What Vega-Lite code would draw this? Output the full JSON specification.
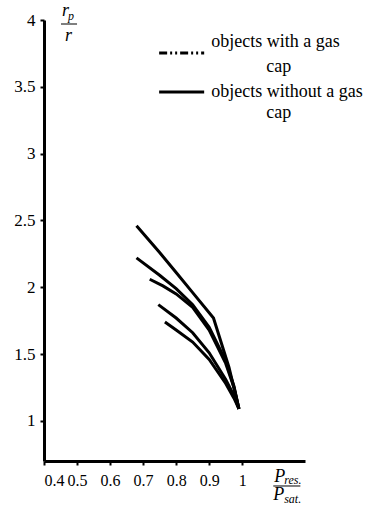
{
  "$schema": "https://vega.github.io/schema/vega-lite/v6.json",
  "width": 261,
  "height": 441,
  "autosize": {"type": "none"},
  "padding": {"left": 44, "top": 20, "right": 62, "bottom": 47},
  "background": "white",
  "config": {
    "font": "Liberation Serif, serif",
    "view": {"stroke": null},
    "axis": {
      "grid": false,
      "domainColor": "black",
      "tickColor": "black",
      "labelColor": "black",
      "labelFont": "Liberation Serif, serif",
      "domainWidth": 3,
      "tickWidth": 2,
      "tickSize": 4,
      "labelOverlap": false
    }
  },
  "datasets": {
    "curves": [
      {"curve": "A", "x": 0.68, "y": 2.46}, {"curve": "A", "x": 0.75, "y": 2.26}, {"curve": "A", "x": 0.8, "y": 2.11}, {"curve": "A", "x": 0.85, "y": 1.96}, {"curve": "A", "x": 0.913, "y": 1.77}, {"curve": "A", "x": 0.96, "y": 1.4}, {"curve": "A", "x": 0.99, "y": 1.09},
      {"curve": "B", "x": 0.68, "y": 2.22}, {"curve": "B", "x": 0.75, "y": 2.09}, {"curve": "B", "x": 0.8, "y": 1.99}, {"curve": "B", "x": 0.85, "y": 1.87}, {"curve": "B", "x": 0.9, "y": 1.7}, {"curve": "B", "x": 0.95, "y": 1.45}, {"curve": "B", "x": 0.975, "y": 1.26}, {"curve": "B", "x": 0.99, "y": 1.09},
      {"curve": "C", "x": 0.72, "y": 2.06}, {"curve": "C", "x": 0.76, "y": 2.01}, {"curve": "C", "x": 0.8, "y": 1.95}, {"curve": "C", "x": 0.85, "y": 1.85}, {"curve": "C", "x": 0.9, "y": 1.68}, {"curve": "C", "x": 0.95, "y": 1.43}, {"curve": "C", "x": 0.975, "y": 1.25}, {"curve": "C", "x": 0.99, "y": 1.09},
      {"curve": "D", "x": 0.746, "y": 1.87}, {"curve": "D", "x": 0.8, "y": 1.77}, {"curve": "D", "x": 0.85, "y": 1.66}, {"curve": "D", "x": 0.9, "y": 1.51}, {"curve": "D", "x": 0.95, "y": 1.31}, {"curve": "D", "x": 0.975, "y": 1.19}, {"curve": "D", "x": 0.99, "y": 1.09},
      {"curve": "E", "x": 0.766, "y": 1.74}, {"curve": "E", "x": 0.8, "y": 1.68}, {"curve": "E", "x": 0.85, "y": 1.59}, {"curve": "E", "x": 0.9, "y": 1.46}, {"curve": "E", "x": 0.95, "y": 1.28}, {"curve": "E", "x": 0.975, "y": 1.17}, {"curve": "E", "x": 0.99, "y": 1.09}
    ],
    "legendLines": [
      {"kind": "with", "x": 0.7485, "x2": 0.8848, "y": 3.753},
      {"kind": "without", "x": 0.7485, "x2": 0.8848, "y": 3.461}
    ],
    "legendText": [
      {"text": "objects with a gas", "x": 0.906, "y": 3.798},
      {"text": "cap", "x": 1.073, "y": 3.611},
      {"text": "objects without a gas", "x": 0.906, "y": 3.424},
      {"text": "cap", "x": 1.073, "y": 3.27}
    ],
    "mathBig": [
      {"text": "r", "x": 0.4545, "y": 4.03},
      {"text": "r", "x": 0.4636, "y": 3.843},
      {"text": "P", "x": 1.097, "y": 0.543},
      {"text": "P", "x": 1.094, "y": 0.408}
    ],
    "mathSub": [
      {"text": "p", "x": 0.4727, "y": 4.0},
      {"text": "res.", "x": 1.127, "y": 0.528},
      {"text": "sat.", "x": 1.127, "y": 0.386}
    ],
    "bars": [
      {"x": 0.4515, "x2": 0.5, "y": 3.97},
      {"x": 1.094, "x2": 1.176, "y": 0.513}
    ]
  },
  "encoding": {
    "x": {"field": "x", "type": "quantitative",
          "scale": {"domain": [0.4, 1.19], "nice": false, "zero": false},
          "axis": {"values": [0.4, 0.5, 0.6, 0.7, 0.8, 0.9, 1], "format": "~g", "title": null, "labelPadding": 7,
                   "labelFont": "Liberation Serif, serif", "labelFontSize": 16, "labelOverlap": false}},
    "y": {"field": "y", "type": "quantitative",
          "scale": {"domain": [0.7, 4], "nice": false, "zero": false},
          "axis": {"values": [1, 1.5, 2, 2.5, 3, 3.5, 4], "format": "~g", "title": null, "labelPadding": 5,
                   "labelFont": "Liberation Serif, serif", "labelFontSize": 17, "labelOverlap": false}}
  },
  "layer": [
    {
      "data": {"name": "curves"},
      "mark": {"type": "line", "color": "black", "strokeWidth": 3, "interpolate": "linear"},
      "encoding": {
        "detail": {"field": "curve"}
      }
    },
    {
      "data": {"name": "legendLines"},
      "mark": {"type": "rule", "color": "black", "strokeWidth": 3},
      "encoding": {
        "x2": {"field": "x2"},
        "strokeDash": {"field": "kind", "type": "nominal", "legend": null,
                       "scale": {"domain": ["with", "without"], "range": [[8, 3, 2, 3, 2, 3], [1, 0]]}}
      }
    },
    {
      "data": {"name": "legendText"},
      "mark": {"type": "text", "align": "left", "baseline": "alphabetic", "font": "Liberation Serif, serif", "fontSize": 18, "color": "black"},
      "encoding": {
        "text": {"field": "text"}
      }
    },
    {
      "data": {"name": "mathBig"},
      "mark": {"type": "text", "align": "left", "baseline": "alphabetic", "font": "Liberation Serif, serif", "fontStyle": "italic", "fontSize": 18, "color": "black"},
      "encoding": {
        "text": {"field": "text"}
      }
    },
    {
      "data": {"name": "mathSub"},
      "mark": {"type": "text", "align": "left", "baseline": "alphabetic", "font": "Liberation Serif, serif", "fontStyle": "italic", "fontSize": 12, "color": "black"},
      "encoding": {
        "text": {"field": "text"}
      }
    },
    {
      "data": {"name": "bars"},
      "mark": {"type": "rule", "color": "black", "strokeWidth": 1},
      "encoding": {
        "x2": {"field": "x2"}
      }
    }
  ]
}
